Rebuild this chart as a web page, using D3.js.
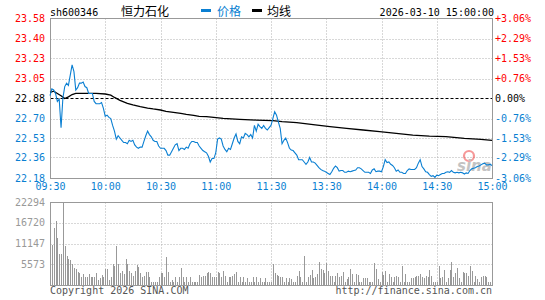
<!DOCTYPE html>
<html lang="zh-CN">
<head>
<meta charset="UTF-8">
<title>恒力石化 分时</title>
<script src="https://d3js.org/d3.v7.min.js"></script>
<style>
  body { margin: 0; background: #fff; }
  svg { display: block; }
</style>
</head>
<body>
<script>
var code = "sh600346";
var stockName = "恒力石化";
var stamp = "2026-03-10 15:00:00";
var prevClose = 22.88;

var priceTicks = [23.58, 23.40, 23.23, 23.05, 22.88, 22.70, 22.53, 22.36, 22.18];
var pctTicks = ["+3.06%", "+2.29%", "+1.53%", "+0.76%", "0.00%", "-0.76%", "-1.53%", "-2.29%", "-3.06%"];
var timeIdx = [0, 30, 60, 90, 120, 150, 180, 210, 240];
var timeLabels = ["09:30", "10:00", "10:30", "11:00", "11:30", "13:30", "14:00", "14:30", "15:00"];
var volTicks = [5573, 11147, 16720, 22294];

// one price per minute, 09:30-11:30 then 13:01-15:00
var prices = [
  22.90, 22.96, 22.95, 22.92, 22.85, 22.87, 22.62, 22.88, 22.98, 23.01,
  22.99, 23.08, 23.17, 23.11, 22.95, 22.97, 23.01, 23.01, 23.02, 22.98,
  22.97, 22.92, 22.92, 22.92, 22.85, 22.83, 22.83, 22.83, 22.84, 22.79,
  22.72, 22.73, 22.71, 22.70, 22.64, 22.59, 22.52, 22.55, 22.53, 22.51,
  22.49, 22.49, 22.48, 22.51, 22.50, 22.51, 22.47, 22.45, 22.44, 22.45,
  22.45, 22.50, 22.55, 22.59, 22.56, 22.54, 22.51, 22.50, 22.50, 22.46,
  22.44, 22.44, 22.44, 22.42, 22.38, 22.38, 22.41, 22.44, 22.47, 22.48,
  22.42, 22.44, 22.44, 22.43, 22.45, 22.44, 22.48, 22.50, 22.50, 22.49,
  22.49, 22.46, 22.44, 22.42, 22.41, 22.40, 22.37, 22.32, 22.35, 22.35,
  22.40, 22.52, 22.53, 22.52, 22.46, 22.43, 22.41, 22.44, 22.43, 22.48,
  22.53, 22.565, 22.50, 22.48, 22.54, 22.53, 22.57, 22.56, 22.54, 22.56,
  22.53, 22.64, 22.59, 22.65, 22.63, 22.615, 22.64, 22.615, 22.60, 22.62,
  22.64,
  22.70, 22.76, 22.73, 22.67, 22.615, 22.48, 22.51, 22.53, 22.49, 22.44,
  22.425, 22.42, 22.40, 22.38, 22.34, 22.34, 22.34, 22.32, 22.30, 22.32,
  22.36, 22.32, 22.32, 22.31, 22.29, 22.27, 22.255, 22.245, 22.24, 22.23,
  22.22, 22.21, 22.235, 22.265, 22.285, 22.27, 22.24, 22.245, 22.245, 22.23,
  22.23, 22.24, 22.235, 22.24, 22.245, 22.25, 22.27, 22.27, 22.26, 22.245,
  22.23, 22.23, 22.23, 22.22, 22.25, 22.26, 22.235, 22.24, 22.24, 22.235,
  22.28, 22.34, 22.315, 22.32, 22.30, 22.29, 22.27, 22.24, 22.25, 22.23,
  22.23, 22.22, 22.22, 22.245, 22.26, 22.255, 22.255, 22.255, 22.27, 22.31,
  22.34, 22.28, 22.26, 22.235, 22.23, 22.21, 22.195, 22.20, 22.185, 22.205,
  22.20, 22.21, 22.22, 22.22, 22.23, 22.235, 22.23, 22.245, 22.23, 22.225,
  22.23, 22.225, 22.23, 22.225, 22.215, 22.225, 22.22, 22.245, 22.26, 22.265,
  22.27, 22.28, 22.285, 22.295, 22.305, 22.31, 22.295, 22.295, 22.30, 22.29
];

// average line, read at these minutes
var avgIdx = [0, 2, 4, 6, 8, 10, 12, 14, 20, 25, 30, 33, 35, 38, 42, 45, 49, 53, 56, 60,
  63, 67, 71, 74, 78, 81, 85, 94, 103, 112, 121, 126, 134, 144, 152, 161, 170, 179, 188,
  197, 206, 215, 225, 234, 240];
var avgVals = [22.93, 22.94, 22.92, 22.90, 22.875, 22.89, 22.91, 22.92, 22.92, 22.92,
  22.915, 22.905, 22.885, 22.86, 22.833, 22.82, 22.805, 22.792, 22.784, 22.775,
  22.763, 22.755, 22.746, 22.737, 22.728, 22.72, 22.717, 22.702, 22.693, 22.687,
  22.682, 22.673, 22.664, 22.644, 22.629, 22.615, 22.60, 22.585, 22.571,
  22.556, 22.547, 22.542, 22.527, 22.518, 22.51];

var volumes = [
  6980, 10744, 15230, 17190, 12710, 8330, 8330, 22294, 10480, 7880,
  6980, 6720, 5640, 4480, 4210, 3580, 3130, 2240, 2950, 2060,
  2240, 2950, 2060, 2060, 2060, 3310, 1340, 1790, 2690, 2060,
  4300, 4300, 1340, 2060, 5640, 5110, 10480, 5640, 3130, 3760,
  2950, 6980, 5640, 3850, 3130, 2420, 3760, 5370, 4750, 3130,
  2060, 2420, 3580, 3580, 2240, 900, 800, 700, 900, 2060,
  3310, 3310, 2060, 7600, 3580, 800, 1340, 800, 2060, 800,
  2060, 4660, 2060, 800, 2060, 800, 2060, 800, 800, 800,
  900, 2690, 2240, 2420, 2420, 3310, 3580, 3130, 2060, 2060,
  2060, 3580, 3130, 2060, 3760, 2420, 900, 2060, 2060, 2420,
  2950, 3580, 900, 2060, 800, 2060, 800, 1790, 700, 800,
  2240, 800, 2060, 800, 1790, 700, 800, 1790, 800, 800,
  900,
  5640, 3310, 2690, 2420, 2060, 2060, 900, 1790, 900, 1790,
  1520, 800, 900, 2420, 3850, 2060, 800, 7750, 800, 2060,
  2690, 4030, 1790, 2060, 2950, 6180, 4210, 4030, 3310, 5820,
  3850, 2420, 2420, 900, 2420, 3130, 2060, 2420, 3580, 900,
  1520, 2060, 4300, 2950, 900, 2950, 2690, 900, 800, 1790,
  1790, 1790, 700, 800, 900, 5820, 4210, 1520, 800, 3580,
  2690, 3760, 900, 2950, 2060, 800, 2060, 2420, 2060, 900,
  5110, 900, 2950, 800, 900, 1790, 1790, 2060, 2420, 2420,
  2950, 2060, 1790, 2420, 2060, 4030, 2420, 900, 800, 900,
  5110, 1790, 2060, 4030, 900, 1790, 4030, 6270, 2060, 3310,
  4480, 1790, 900, 3580, 3130, 3130, 2420, 5110, 3850, 900,
  2420, 1520, 900, 2240, 2420, 2420, 2060, 900, 800, 900
];

var mono = "'DejaVu Sans Mono', 'Liberation Mono', monospace";
var cjk = "'Noto Sans CJK SC', sans-serif";
var red = "#ff0000", blue = "#0a7fd2", gray = "#999999", grid = "#b0b0b0";

var svg = d3.select("body").append("svg")
  .attr("width", 545)
  .attr("height", 300);

svg.append("rect").attr("width", 545).attr("height", 300).attr("fill", "#fff");

var x = d3.scaleLinear().domain([0, 240]).range([50, 492]);
var y = d3.scaleLinear().domain(d3.extent(priceTicks)).range([178, 18]);
var yv = d3.scaleLinear().domain([0, d3.max(volTicks)]).range([285, 202]);

function tickColor(v) {
  return v > prevClose ? red : (v < prevClose ? blue : "#000");
}

// header
svg.append("text").attr("x", 50).attr("y", 15.5)
  .attr("font-family", mono).attr("font-size", 10).attr("fill", "#000").text(code);
svg.append("text").attr("x", 121).attr("y", 16)
  .attr("font-family", cjk).attr("font-size", 12).attr("fill", "#000").text(stockName);
svg.append("rect").attr("x", 201).attr("y", 9).attr("width", 10).attr("height", 3).attr("fill", blue);
svg.append("text").attr("x", 217).attr("y", 16)
  .attr("font-family", cjk).attr("font-size", 12).attr("fill", blue).text("价格");
svg.append("rect").attr("x", 252).attr("y", 9).attr("width", 10).attr("height", 3).attr("fill", "#000");
svg.append("text").attr("x", 267).attr("y", 16)
  .attr("font-family", cjk).attr("font-size", 12).attr("fill", "#000").text("均线");
svg.append("text").attr("x", 494).attr("y", 15.5).attr("text-anchor", "end")
  .attr("font-family", mono).attr("font-size", 10).attr("fill", "#000").text(stamp);

// price panel grid
var g = svg.append("g").attr("transform", "translate(0.5,0.5)");

g.selectAll(".hgrid").data(priceTicks.filter(function (d, i) {
    return i > 0 && i < priceTicks.length - 1 && d !== prevClose;
  }))
  .enter().append("line")
  .attr("x1", 50).attr("x2", 492)
  .attr("y1", function (d) { return Math.round(y(d)); })
  .attr("y2", function (d) { return Math.round(y(d)); })
  .attr("stroke", grid).attr("stroke-dasharray", "1,2");

g.selectAll(".vgrid").data(timeIdx.slice(1, -1))
  .enter().append("line")
  .attr("x1", function (d) { return Math.round(x(d)); })
  .attr("x2", function (d) { return Math.round(x(d)); })
  .attr("y1", 18).attr("y2", 178)
  .attr("stroke", grid).attr("stroke-dasharray", "1,2");

g.append("line")
  .attr("x1", 50).attr("x2", 492)
  .attr("y1", Math.round(y(prevClose))).attr("y2", Math.round(y(prevClose)))
  .attr("stroke", "#000").attr("stroke-dasharray", "3,2");

// sina watermark
var wm = svg.append("g").attr("opacity", 0.5);
wm.append("circle").attr("cx", 469).attr("cy", 156).attr("r", 5)
  .attr("fill", "none").attr("stroke", "#e33").attr("stroke-width", 2.2);
wm.append("text").attr("x", 457).attr("y", 171)
  .attr("font-family", "'DejaVu Sans', sans-serif").attr("font-size", 15)
  .attr("font-weight", "bold").attr("font-style", "italic").attr("fill", "#888").text("sina");

// lines
var priceLine = d3.line()
  .x(function (d, i) { return x(i); })
  .y(function (d) { return y(d); });

var avgLine = d3.line()
  .x(function (d, i) { return x(avgIdx[i]); })
  .y(function (d) { return y(d); });

svg.append("path").datum(avgVals)
  .attr("d", avgLine).attr("fill", "none")
  .attr("stroke", "#000").attr("stroke-width", 1.3);

svg.append("path").datum(prices)
  .attr("d", priceLine).attr("fill", "none")
  .attr("stroke", blue).attr("stroke-width", 1.1);

g.append("rect").attr("x", 50).attr("y", 18).attr("width", 442).attr("height", 160)
  .attr("fill", "none").attr("stroke", gray);

// axes
var leftAxis = svg.append("g").attr("transform", "translate(50,0)")
  .call(d3.axisLeft(y).tickValues(priceTicks).tickSize(0).tickPadding(5)
    .tickFormat(d3.format(".2f")));
leftAxis.select(".domain").remove();
leftAxis.selectAll("text")
  .attr("font-family", mono).attr("font-size", 10)
  .attr("fill", function (d) { return tickColor(d); });

var rightAxis = svg.append("g").attr("transform", "translate(492,0)")
  .call(d3.axisRight(y).tickValues(priceTicks).tickSize(0).tickPadding(3)
    .tickFormat(function (d, i) { return pctTicks[i]; }));
rightAxis.select(".domain").remove();
rightAxis.selectAll("text")
  .attr("font-family", mono).attr("font-size", 10)
  .attr("fill", function (d) { return tickColor(d); });

var timeAxis = svg.append("g").attr("transform", "translate(0,178)")
  .call(d3.axisBottom(x).tickValues(timeIdx).tickSize(0).tickPadding(5)
    .tickFormat(function (d, i) { return timeLabels[i]; }));
timeAxis.select(".domain").remove();
timeAxis.selectAll("text")
  .attr("font-family", mono).attr("font-size", 10).attr("fill", blue);

// volume panel
g.selectAll(".vhgrid").data(volTicks.slice(0, -1))
  .enter().append("line")
  .attr("x1", 50).attr("x2", 492)
  .attr("y1", function (d) { return Math.round(yv(d)); })
  .attr("y2", function (d) { return Math.round(yv(d)); })
  .attr("stroke", grid).attr("stroke-dasharray", "1,2");

g.selectAll(".vvgrid").data(timeIdx.slice(1, -1))
  .enter().append("line")
  .attr("x1", function (d) { return Math.round(x(d)); })
  .attr("x2", function (d) { return Math.round(x(d)); })
  .attr("y1", 202).attr("y2", 285)
  .attr("stroke", grid).attr("stroke-dasharray", "1,2");

svg.selectAll(".vol").data(volumes)
  .enter().append("rect")
  .attr("x", function (d, i) { return Math.round(x(i)); })
  .attr("y", function (d) { return Math.round(yv(d)); })
  .attr("width", 1)
  .attr("height", function (d) { return 285 - Math.round(yv(d)); })
  .attr("fill", gray);

g.append("rect").attr("x", 50).attr("y", 202).attr("width", 442).attr("height", 83)
  .attr("fill", "none").attr("stroke", gray);

var volAxis = svg.append("g").attr("transform", "translate(50,0)")
  .call(d3.axisLeft(yv).tickValues(volTicks).tickSize(0).tickPadding(5)
    .tickFormat(d3.format("d")));
volAxis.select(".domain").remove();
volAxis.selectAll("text")
  .attr("font-family", mono).attr("font-size", 10).attr("fill", gray);

// footer
svg.append("text").attr("x", 50).attr("y", 294)
  .attr("font-family", mono).attr("font-size", 10).attr("fill", "#555")
  .text("Copyright 2026 SINA.COM");
svg.append("text").attr("x", 492).attr("y", 294).attr("text-anchor", "end")
  .attr("font-family", mono).attr("font-size", 10).attr("fill", "#555")
  .text("http://finance.sina.com.cn");
</script>
</body>
</html>
